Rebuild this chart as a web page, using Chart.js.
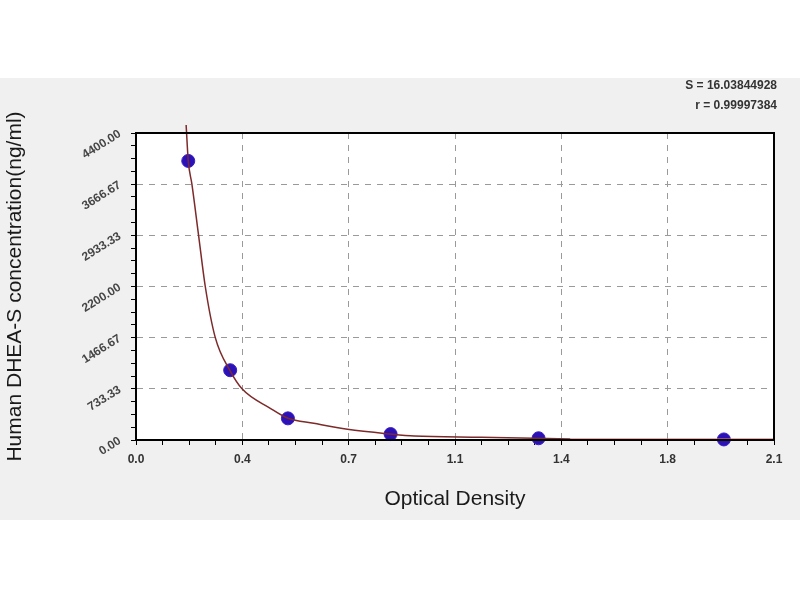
<!DOCTYPE html>
<html>
<head>
<meta charset="utf-8">
<script src="https://cdn.jsdelivr.net/npm/chart.js@4/dist/chart.umd.min.js"></script>
<style>
  body { margin: 0; background: #fff; }
  canvas { display: block; }
</style>
</head>
<body>
<canvas id="curveChart" width="800" height="600"></canvas>
<script>
// standard points (OD vs concentration)
const stdOD = [0.172, 0.310, 0.500, 0.838, 1.325, 1.935];
const stdConc = [4000, 1000, 310, 85, 25, 8];

// fitted curve
const fitOD = [0.165, 0.172, 0.184, 0.206, 0.228, 0.261, 0.310, 0.349, 0.442, 0.500, 0.585, 0.696, 0.838, 0.916, 1.136, 1.430];
const fitConc = [4515, 4000, 3667, 2933, 2200, 1467, 990, 733, 454, 311, 239, 153, 85, 57, 39, 14];

// faint tail of the curve along the axis
const tailOD = [1.430, 2.100];
const tailConc = [12, 12];

// axes
const xMajor = [0, 0.35, 0.7, 1.05, 1.4, 1.75, 2.1];
const xTickLabels = ['0.0', '0.4', '0.7', '1.1', '1.4', '1.8', '2.1'];
const yMajor = [0, 733.33, 1466.67, 2200, 2933.33, 3666.67, 4400];
const yTickLabels = ['0.00', '733.33', '1466.67', '2200.00', '2933.33', '3666.67', '4400.00'];

const fitText = ['S = 16.03844928', 'r = 0.99997384'];

const MINOR = 4; // subdivisions between major ticks

function withMinor(major) {
    const out = [];
    for (let i = 0; i < major.length - 1; i++) {
        const a = major[i], b = major[i + 1];
        for (let k = 0; k < MINOR; k++) out.push(a + (b - a) * k / MINOR);
    }
    out.push(major[major.length - 1]);
    return out;
}

function toPoints(xs, ys) {
    return xs.map((x, i) => ({ x: x, y: ys[i] }));
}

// gray band, white plot box, frame and the fit text
const framePlugin = {
    id: 'frame',
    beforeDraw(chart) {
        const { ctx, chartArea: a } = chart;
        ctx.save();
        ctx.fillStyle = '#f0f0f0';
        ctx.fillRect(0, 78, chart.width, 442);
        ctx.fillStyle = '#fff';
        ctx.fillRect(a.left, a.top, a.right - a.left, a.bottom - a.top);
        ctx.restore();
    },
    afterDraw(chart) {
        const { ctx, chartArea: a } = chart;
        ctx.save();
        ctx.strokeStyle = '#000';
        ctx.lineWidth = 2;
        ctx.strokeRect(a.left, a.top, a.right - a.left, a.bottom - a.top);
        ctx.fillStyle = '#333';
        ctx.font = 'bold 12px Arial, "Liberation Sans", sans-serif';
        ctx.textAlign = 'right';
        ctx.textBaseline = 'middle';
        ctx.fillText(fitText[0], a.right + 3, a.top - 47);
        ctx.fillText(fitText[1], a.right + 3, a.top - 27);
        ctx.restore();
    }
};

const tickFont = { family: 'Arial, "Liberation Sans", sans-serif', size: 12, weight: 'bold' };
const titleFont = { family: 'Arial, "Liberation Sans", sans-serif', size: 21 };

new Chart(document.getElementById('curveChart'), {
    type: 'scatter',
    data: {
        datasets: [
            {
                label: 'tail',
                data: toPoints(tailOD, tailConc),
                showLine: true,
                borderColor: 'rgba(235, 110, 110, 0.8)',
                borderWidth: 2,
                pointRadius: 0,
                clip: false
            },
            {
                label: 'fit',
                data: toPoints(fitOD, fitConc),
                showLine: true,
                borderColor: '#7d2a2a',
                borderWidth: 1.5,
                pointRadius: 0,
                cubicInterpolationMode: 'monotone',
                clip: false
            },
            {
                label: 'standards',
                data: toPoints(stdOD, stdConc),
                pointRadius: 6.5,
                pointBackgroundColor: '#2c12b6',
                pointBorderColor: '#3a1ec8',
                pointBorderWidth: 1,
                clip: false
            }
        ]
    },
    options: {
        responsive: false,
        animation: false,
        layout: { padding: { left: 0, top: 133, right: 26, bottom: 88 } },
        plugins: { legend: { display: false }, tooltip: { enabled: false } },
        scales: {
            x: {
                type: 'linear',
                min: 0,
                max: 2.1,
                afterBuildTicks: s => { s.ticks = withMinor(xMajor).map(v => ({ value: v })); },
                afterFit: s => { s.height = 72; },
                ticks: {
                    autoSkip: false,
                    maxRotation: 0,
                    padding: 7,
                    color: '#333',
                    font: tickFont,
                    callback: (v, i) => (i % MINOR === 0 ? xTickLabels[i / MINOR] : '')
                },
                grid: {
                    color: c => (c.index % MINOR === 0 ? '#9a9a9a' : 'rgba(0,0,0,0)'),
                    tickColor: '#000',
                    tickLength: 5,
                    lineWidth: 1
                },
                border: { color: '#000', width: 2, dash: [6, 6] },
                title: {
                    display: true,
                    text: 'Optical Density',
                    color: '#1a1a1a',
                    padding: { top: 0, bottom: 0 },
                    font: titleFont
                }
            },
            y: {
                type: 'linear',
                min: 0,
                max: 4400,
                afterBuildTicks: s => { s.ticks = withMinor(yMajor).map(v => ({ value: v })); },
                afterFit: s => { s.width = 136; },
                ticks: {
                    autoSkip: false,
                    minRotation: 32,
                    maxRotation: 32,
                    padding: 11,
                    color: '#444',
                    font: tickFont,
                    callback: (v, i) => (i % MINOR === 0 ? yTickLabels[i / MINOR] : '')
                },
                grid: {
                    color: c => (c.index % MINOR === 0 ? '#9a9a9a' : 'rgba(0,0,0,0)'),
                    tickColor: '#000',
                    tickLength: 5,
                    lineWidth: 1
                },
                border: { color: '#000', width: 2, dash: [6, 6] },
                title: {
                    display: true,
                    text: 'Human DHEA-S concentration(ng/ml)',
                    color: '#1a1a1a',
                    padding: { top: 3, bottom: 0 },
                    font: titleFont
                }
            }
        }
    },
    plugins: [framePlugin]
});
</script>
</body>
</html>
